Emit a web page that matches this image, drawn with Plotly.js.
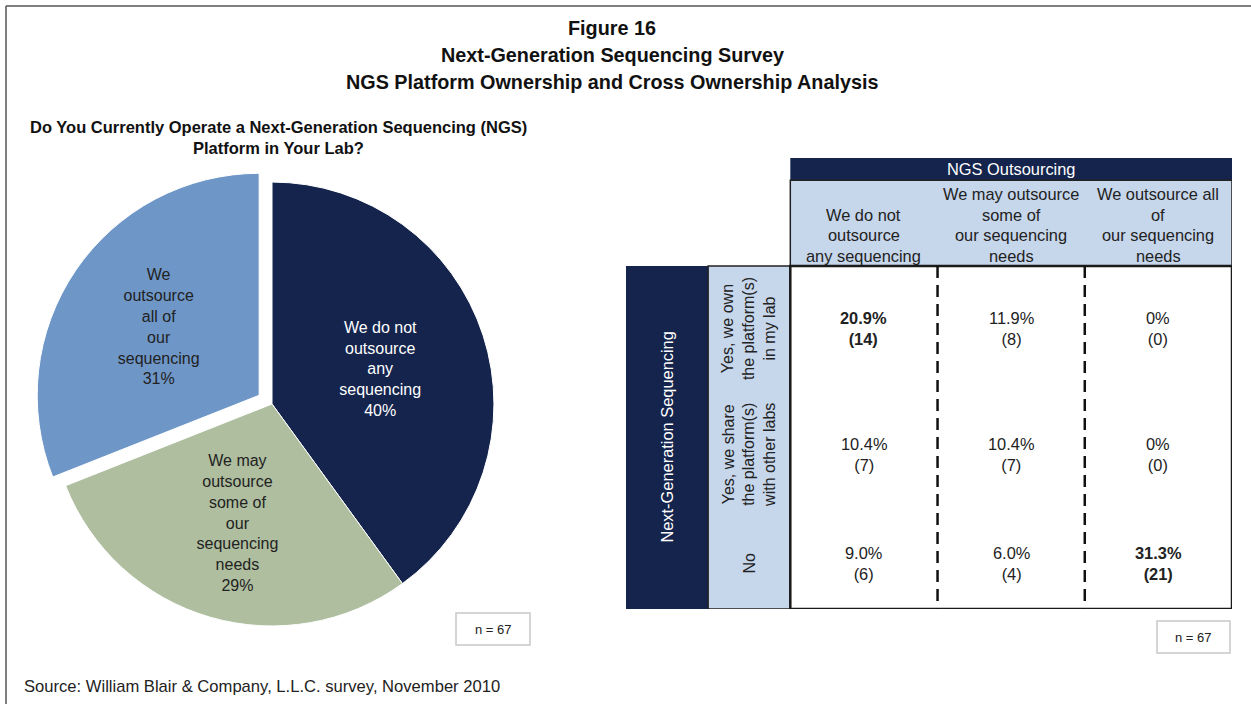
<!DOCTYPE html>
<html>
<head>
<meta charset="utf-8">
<script src="https://cdn.plot.ly/plotly-3.0.1.min.js"></script>
<style>
  html, body { margin: 0; padding: 0; background: #ffffff; }
  #chart { width: 1251px; height: 704px; }
</style>
</head>
<body>
<div id="chart"></div>
<script>
// ---------------- DATA ----------------
const titleLines = [
  'Figure 16',
  'Next-Generation Sequencing Survey',
  'NGS Platform Ownership and Cross Ownership Analysis'
];
const pieTitle = ['Do You Currently Operate a Next-Generation Sequencing (NGS)', 'Platform in Your Lab?'];
const pieLabels = [
  'We do not<br>outsource<br>any<br>sequencing',
  'We may<br>outsource<br>some of<br>our<br>sequencing<br>needs',
  'We<br>outsource<br>all of<br>our<br>sequencing'
];
const pieValues = [40, 29, 31];

const tableGroupCol = 'NGS Outsourcing';
const tableGroupRow = 'Next-Generation Sequencing';
const colLabels = [
  'We do not<br>outsource<br>any sequencing',
  'We may outsource<br>some of<br>our sequencing<br>needs',
  'We outsource all<br>of<br>our sequencing<br>needs'
];
const rowLabels = [
  'Yes, we own<br>the platform(s)<br>in my lab',
  'Yes, we share<br>the platform(s)<br>with other labs',
  'No'
];
const cellPct = [
  [20.9, 11.9, 0],
  [10.4, 10.4, 0],
  [9.0, 6.0, 31.3]
];
const cellCount = [
  [14, 8, 0],
  [7, 7, 0],
  [6, 4, 21]
];
const boldCells = [[0, 0], [2, 2]];
const sampleSize = 'n = 67';
const sourceText = 'Source: William Blair & Company, L.L.C. survey, November 2010';

// ---------------- STYLE ----------------
const FONT = 'Liberation Sans, Arial, sans-serif';
const NAVY = '#14244c';
const GREEN = '#aebe9f';
const LBLUE = '#6e97c8';
const PALE = '#c6d6eb';
const TXT = '#222222';
const TFS = 16.4;  // table font size
const W = 1251, H = 704;
const px = v => v / W;
const py = v => 1 - v / H;

// table geometry (axis units)
const labelColW = 0.558;
const headerH = 0.75;
const bandH = 0.1947;
const rowEdges = [0, 1.1, 2.2, 3];

// ---------------- TRACES ----------------
const pieTrace = {
  type: 'pie',
  values: pieValues,
  text: pieLabels,
  texttemplate: '%{text}<br>%{value}%',
  textposition: 'inside',
  insidetextorientation: 'horizontal',
  sort: false,
  direction: 'clockwise',
  rotation: 0,
  pull: [0, 0, 0.07],
  marker: { colors: [NAVY, GREEN, LBLUE], line: { color: '#ffffff', width: 1 } },
  insidetextfont: { family: FONT, size: 16, color: ['#ffffff', TXT, TXT] },
  domain: { x: [px(272 - 237.5), px(272 + 237.5)], y: [py(404 + 237.5), py(404 - 237.5)] },
  hoverinfo: 'skip',
  showlegend: false
};

// ---------------- SHAPES / TEXT ----------------
const shapes = [];
const annotations = [];
const nCols = colLabels.length, nRows = rowLabels.length;

function note(o) {
  annotations.push(Object.assign({ showarrow: false, xanchor: 'center', yanchor: 'middle' }, o));
}

// frame lines
shapes.push({ type: 'line', xref: 'paper', yref: 'paper', x0: px(6), x1: 1, y0: py(6), y1: py(6), line: { color: '#555555', width: 1.5 } });
shapes.push({ type: 'line', xref: 'paper', yref: 'paper', x0: px(6), x1: px(6), y0: py(6), y1: 0, line: { color: '#555555', width: 1.5 } });

// navy band and header
shapes.push({ type: 'rect', xref: 'x', yref: 'y', x0: 0, x1: nCols, y0: -headerH - bandH, y1: -headerH, fillcolor: NAVY, line: { width: 0 } });
shapes.push({ type: 'rect', xref: 'x', yref: 'y', x0: 0, x1: nCols, y0: -headerH, y1: 0, fillcolor: PALE, line: { color: '#222222', width: 1.5 } });
// row label columns
shapes.push({ type: 'rect', xref: 'x', yref: 'y', x0: -2 * labelColW, x1: -labelColW, y0: 0, y1: rowEdges[nRows], fillcolor: NAVY, line: { width: 0 } });
shapes.push({ type: 'rect', xref: 'x', yref: 'y', x0: -labelColW, x1: 0, y0: 0, y1: rowEdges[nRows], fillcolor: PALE, line: { color: '#222222', width: 1.5 } });
// data box
shapes.push({ type: 'rect', xref: 'x', yref: 'y', x0: 0, x1: nCols, y0: 0, y1: rowEdges[nRows], fillcolor: '#ffffff', line: { color: '#1a1a1a', width: 2.5 } });
// dashed separators
for (let c = 1; c < nCols; c++) {
  shapes.push({ type: 'line', xref: 'x', yref: 'y', x0: c, x1: c, y0: 0, y1: rowEdges[nRows], line: { color: '#111111', width: 2.5, dash: '12px,7px' } });
}
// header texts
note({ xref: 'x', yref: 'y', x: nCols / 2, y: -headerH - bandH / 2, text: tableGroupCol, font: { family: FONT, size: TFS, color: '#ffffff' } });
colLabels.forEach((t, c) => {
  const lines = t.split('<br>');
  lines.forEach((ln, k) => {
    note({ xref: 'x', yref: 'y', x: c + 0.5, y: 0, yshift: 10 + (lines.length - 1 - k) * 20.6, text: ln, font: { family: FONT, size: TFS, color: TXT } });
  });
});
// row group label
note({ xref: 'x', yref: 'y', x: -1.5 * labelColW, y: rowEdges[nRows] / 2, text: tableGroupRow, textangle: -90, font: { family: FONT, size: TFS, color: '#ffffff' } });
// row labels
rowLabels.forEach((t, r) => {
  note({ xref: 'x', yref: 'y', x: -labelColW / 2, y: (rowEdges[r] + rowEdges[r + 1]) / 2, text: t, textangle: -90, align: 'center', font: { family: FONT, size: 16, color: TXT } });
});
// cells
const fmtPct = v => (v === 0 ? '0%' : v.toFixed(1) + '%');
for (let r = 0; r < nRows; r++) {
  for (let c = 0; c < nCols; c++) {
    const bold = boldCells.some(b => b[0] === r && b[1] === c);
    let t = fmtPct(cellPct[r][c]) + '<br>(' + cellCount[r][c] + ')';
    if (bold) t = '<b>' + t + '</b>';
    note({ xref: 'x', yref: 'y', x: c + 0.5, y: (rowEdges[r] + rowEdges[r + 1]) / 2, text: t, align: 'center', font: { family: FONT, size: TFS, color: TXT } });
  }
}

// titles
const titleY = [28, 55, 82];
titleLines.forEach((t, i) => {
  note({ xref: 'paper', yref: 'paper', x: px(612), y: py(titleY[i]), text: '<b>' + t + '</b>', font: { family: FONT, size: 19.8, color: '#111111' } });
});
const subY = [127, 148];
pieTitle.forEach((t, i) => {
  note({ xref: 'paper', yref: 'paper', x: px(278), y: py(subY[i]), text: '<b>' + t + '</b>', font: { family: FONT, size: 16.5, color: '#111111' } });
});

// n = 67 boxes
[[456, 530, 613, 645], [1157, 1230, 621, 653]].forEach(b => {
  shapes.push({ type: 'rect', xref: 'paper', yref: 'paper', x0: px(b[0]), x1: px(b[1]), y0: py(b[3]), y1: py(b[2]), fillcolor: '#ffffff', line: { color: '#c8c8c8', width: 1.5 } });
  note({ xref: 'paper', yref: 'paper', x: px((b[0] + b[1]) / 2), y: py((b[2] + b[3]) / 2), text: sampleSize, font: { family: FONT, size: 13, color: TXT } });
});

// source
note({ xref: 'paper', yref: 'paper', x: px(22), y: py(686), xanchor: 'left', text: sourceText, font: { family: FONT, size: 16.6, color: TXT } });

const layout = {
  width: W, height: H,
  margin: { l: 0, r: 0, t: 0, b: 0 },
  paper_bgcolor: '#ffffff', plot_bgcolor: 'rgba(0,0,0,0)',
  showlegend: false,
  font: { family: FONT },
  xaxis: { domain: [px(626), px(1232)], range: [-2 * labelColW, nCols], visible: false, fixedrange: true },
  yaxis: { domain: [py(609), py(158)], range: [rowEdges[nRows], -headerH - bandH], visible: false, fixedrange: true },
  shapes: shapes,
  annotations: annotations
};

Plotly.newPlot('chart', [pieTrace], layout, { displayModeBar: false, staticPlot: true });
</script>
</body>
</html>
